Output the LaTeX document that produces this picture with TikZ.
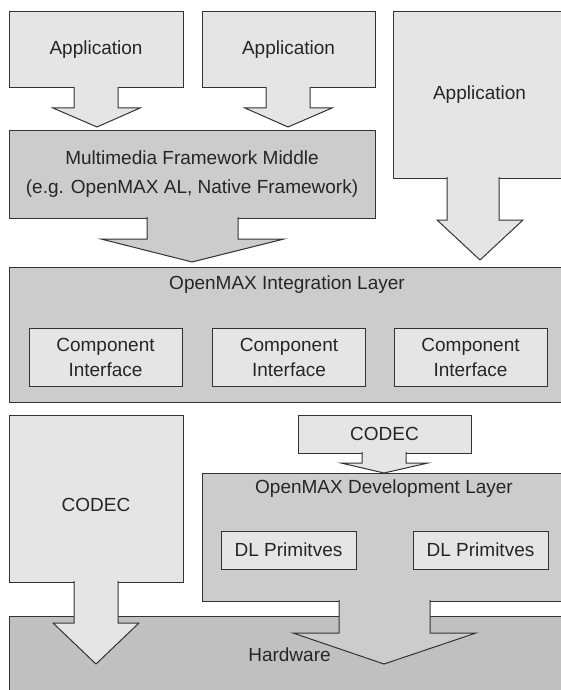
\documentclass[tikz,border=0pt]{standalone}
\usepackage{fontspec}
\setmainfont{Liberation Sans}
\usepackage{tikz}
\usetikzlibrary{positioning}
\definecolor{boxlight}{gray}{0.9}
\definecolor{boxmid}{gray}{0.8}
\definecolor{boxdark}{gray}{0.753}

\begin{document}
\begin{tikzpicture}[x=0.5pt, y=-0.5pt,
    box/.style={draw=black!80, line width=0.5pt, rectangle, inner sep=0pt, align=center,
                font=\fontsize{9.5}{12.5}\selectfont, text=black!85},
    lightbox/.style={box, fill=boxlight},
    midbox/.style={box, fill=boxmid},
    darkbox/.style={box, fill=boxdark},
    title/.style={inner sep=0pt, font=\fontsize{9.5}{12.5}\selectfont, text=black!85}]
    \clip (0,0) rectangle (561,690);

    % applications on top
    \node[lightbox, minimum width=87pt, minimum height=38pt] (app1) at (96,50) {Application};
    \node[lightbox, minimum width=86.5pt, minimum height=38pt] (app2) at (288.5,50) {Application};
    \node[lightbox, minimum width=86.5pt, minimum height=83pt] (app3) at (479.5,95) {Application};

    \node[midbox, minimum width=183pt, minimum height=44pt, font=\fontsize{9.5}{14.5}\selectfont]
        (mm) at (192,174) {Multimedia Framework Middle\\(e.g. OpenMAX AL, Native Framework)};

    % integration layer
    \node[midbox, minimum width=280.5pt, minimum height=67.5pt] (il) at (289.5,334.5) {};
    \node[title] (iltitle) at (287,285) {OpenMAX Integration Layer};
    \foreach \n/\x in {1/105.5, 2/289, 3/470.5}
        \node[lightbox, minimum width=76.5pt, minimum height=29pt] (comp\n) at (\x,357) {Component\\Interface};

    % hardware and codecs
    \node[darkbox, minimum width=280.5pt, minimum height=39pt] (hw) at (289.5,655) {Hardware};
    \node[lightbox, minimum width=87pt, minimum height=83.5pt, text height=13.3pt, text depth=0pt]
        (codec1) at (96,498.5) {CODEC};
    \node[lightbox, minimum width=86.5pt, minimum height=19pt] (codec2) at (384.5,434) {CODEC};

    % development layer
    \node[midbox, minimum width=184pt, minimum height=64pt] (dl) at (386,537) {};
    \node[title] (dltitle) at (384,489) {OpenMAX Development Layer};
    \node[lightbox, minimum width=67.5pt, minimum height=19pt] (prim1) at (288.5,550) {DL Primitves};
    \node[lightbox, minimum width=67.5pt, minimum height=19pt] (prim2) at (480.5,550) {DL Primitves};

    % block arrows: stem left/right, head left/right, tip, base, head top, tip y
    \foreach \sl/\sr/\hl/\hr/\tx/\yb/\yh/\yt in {74/118/53/140/97/88/108/127,
                                                   266/310/245/332/288/88/108/127,
                                                   447/499/437/523/480/178/220/260,
                                                   74/118/53/139/96/582/623/664,
                                                   362/406/341/428/384/453/463/473}
    {
    \filldraw[fill=boxlight, draw=black!80, line width=0.5pt]
        (\sl,\yb-1) -- (\sl,\yh) -- (\hl,\yh) -- (\tx,\yt) -- (\hr,\yh) -- (\sr,\yh) -- (\sr,\yb-1);
    }
    \foreach \sl/\sr/\hl/\hr/\tx/\yb/\yh/\yt in {147/238/101/284/192/218/239/262,
                                                   339/430/293/476/384/601/633/664}
    {
    \filldraw[fill=boxmid, draw=black!80, line width=0.5pt]
        (\sl,\yb-1) -- (\sl,\yh) -- (\hl,\yh) -- (\tx,\yt) -- (\hr,\yh) -- (\sr,\yh) -- (\sr,\yb-1);
    }
\end{tikzpicture}
\end{document}
